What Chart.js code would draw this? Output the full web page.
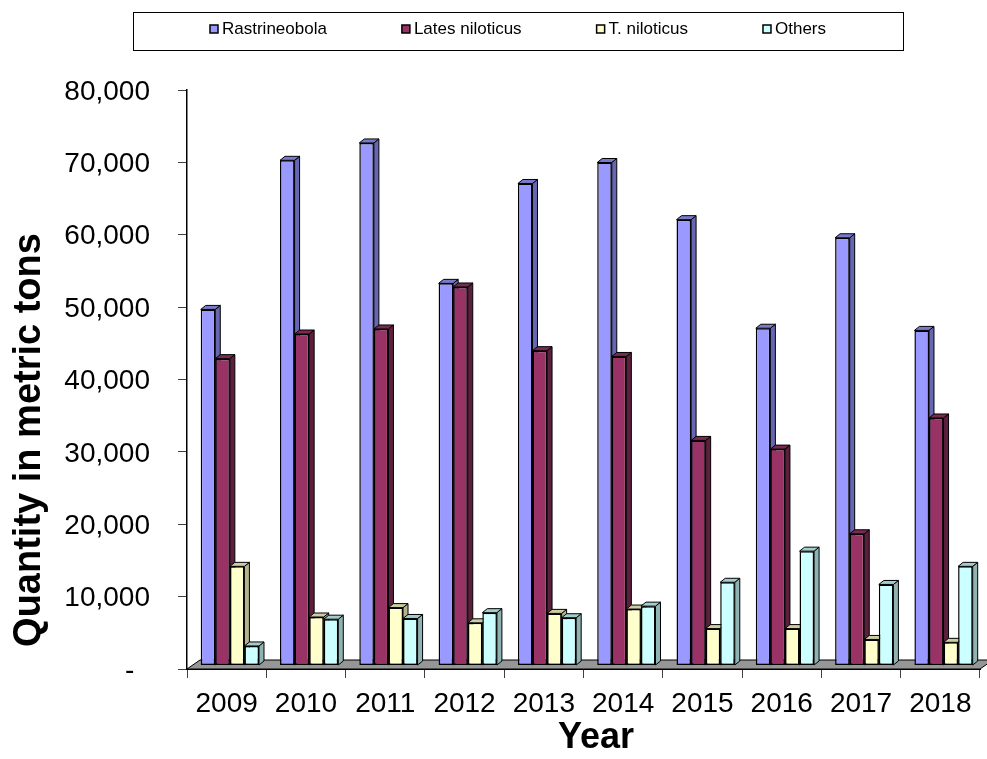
<!DOCTYPE html>
<html>
<head>
<meta charset="utf-8">
<title>Fish catch by species, 2009–2018</title>
<script src="https://cdn.jsdelivr.net/npm/chart.js@4.4.1/dist/chart.umd.min.js"></script>
<style>
  html, body { margin: 0; padding: 0; background: #ffffff; }
  #wrap { width: 987px; height: 759px; }
</style>
</head>
<body>
<div id="wrap"><canvas id="chart" width="987" height="759"></canvas></div>
<script>
// Annual landings (metric tons) per species group
const years = ['2009', '2010', '2011', '2012', '2013', '2014', '2015', '2016', '2017', '2018'];
const rastrineobola = [49200, 69800, 72200, 52800, 66600, 69500, 61600, 46600, 59100, 46300];
const latesNiloticus = [42400, 45800, 46500, 52300, 43500, 42700, 31100, 29900, 18200, 34200];
const tNiloticus = [13700, 6700, 8000, 5900, 7200, 7800, 5100, 5100, 3600, 3200];
const others = [2700, 6400, 6500, 7300, 6600, 8200, 11500, 15800, 11200, 13700];
const seriesNames = ['Rastrineobola', 'Lates niloticus', 'T. niloticus', 'Others'];
const yTicks = [0, 10000, 20000, 30000, 40000, 50000, 60000, 70000, 80000];

// Face colours for the pseudo-3D columns: front, right side, top
const frontColors = ['#9999FF', '#993366', '#FFFFCC', '#CCFFFF'];
const sideColors = ['#6666B3', '#5C1F3D', '#B3B38F', '#8FB3B3'];
const topColors = ['#7A7ACC', '#7A2952', '#CCCCA3', '#A3CCCC'];

const FONT = '"Liberation Sans", Arial, Helvetica, sans-serif';
const DEPTH = { dx: 5, dy: -4 };      // column depth
const SHIFT = { x: 3.2, y: -3.5 };    // columns sit mid-way into the floor
const FLOOR = { dx: 13, dy: -9 };     // floor depth

const seriesValues = [rastrineobola, latesNiloticus, tNiloticus, others];

function poly(ctx, pts, fill) {
  ctx.beginPath();
  ctx.moveTo(pts[0][0], pts[0][1]);
  for (let i = 1; i < pts.length; i++) ctx.lineTo(pts[i][0], pts[i][1]);
  ctx.closePath();
  ctx.fillStyle = fill;
  ctx.fill();
  ctx.lineWidth = 1;
  ctx.strokeStyle = '#000';
  ctx.stroke();
}

// Draws floor, column sides/tops and fronts in left-to-right order
const columns3d = {
  id: 'columns3d',
  beforeDatasetsDraw(chart) {
    const ctx = chart.ctx;
    const area = chart.chartArea;
    const y0 = chart.scales.y.getPixelForValue(0);
    ctx.save();
    poly(ctx, [
      [area.left, y0], [area.right, y0],
      [area.right + FLOOR.dx, y0 + FLOOR.dy], [area.left + FLOOR.dx, y0 + FLOOR.dy]
    ], '#969696');
    ctx.restore();

    ctx.save();
    ctx.translate(SHIFT.x, SHIFT.y);
    chart.data.datasets.forEach((ds, i) => {
      const meta = chart.getDatasetMeta(i);
      meta.data.forEach(bar => {
        const l = bar.x - bar.width / 2;
        const r = bar.x + bar.width / 2;
        const top = bar.y;
        const base = bar.base;
        poly(ctx, [[r, top], [r + DEPTH.dx, top + DEPTH.dy], [r + DEPTH.dx, base + DEPTH.dy], [r, base]], sideColors[i]);
        poly(ctx, [[l, top], [l + DEPTH.dx, top + DEPTH.dy], [r + DEPTH.dx, top + DEPTH.dy], [r, top]], topColors[i]);
        bar.draw(ctx, area);
      });
    });
    ctx.restore();
    return false;
  }
};

// Boxed legend and axis titles
const decorations = {
  id: 'decorations',
  afterDraw(chart) {
    const ctx = chart.ctx;
    ctx.save();
    // legend frame
    ctx.lineWidth = 1;
    ctx.strokeStyle = '#000';
    ctx.strokeRect(133.5, 12.5, 770, 38);
    ctx.font = '17px ' + FONT;
    ctx.textBaseline = 'middle';
    ctx.textAlign = 'left';
    const box = 8, gapText = 4, gapItem = 75;
    const widths = seriesNames.map(n => box + gapText + ctx.measureText(n).width);
    const total = widths.reduce((a, b) => a + b, 0) + gapItem * (widths.length - 1);
    let x = 518 - total / 2;
    const cy = 29;
    seriesNames.forEach((n, i) => {
      ctx.fillStyle = frontColors[i];
      ctx.fillRect(x, cy - box / 2, box, box);
      ctx.lineWidth = 1.5;
      ctx.strokeStyle = '#000';
      ctx.strokeRect(x, cy - box / 2, box, box);
      ctx.fillStyle = '#000';
      ctx.fillText(n, x + box + gapText, cy + 0.5);
      x += widths[i] + gapItem;
    });

    // axis titles
    ctx.fillStyle = '#000';
    ctx.textAlign = 'center';
    ctx.textBaseline = 'middle';
    ctx.font = 'bold 36px ' + FONT;
    ctx.fillText('Year', 596, 738);
    ctx.translate(30, 440);
    ctx.rotate(-Math.PI / 2);
    ctx.font = 'bold 38px ' + FONT;
    ctx.fillText('Quantity in metric tons', 0, 0);
    ctx.restore();
  }
};

const datasets = seriesNames.map((name, i) => ({
  label: name,
  data: seriesValues[i],
  backgroundColor: frontColors[i],
  borderColor: '#000',
  borderWidth: 1.5,
  borderSkipped: false,
  categoryPercentage: 0.735,
  barPercentage: 1.0
}));

new Chart(document.getElementById('chart'), {
  type: 'bar',
  data: { labels: years, datasets },
  plugins: [columns3d, decorations],
  options: {
    responsive: false,
    animation: false,
    devicePixelRatio: 1,
    layout: { padding: { top: 90, right: 7, bottom: 0, left: 0 } },
    plugins: {
      legend: { display: false },
      title: { display: false },
      tooltip: { enabled: false }
    },
    scales: {
      x: {
        afterFit(scale) { scale.height = 90; },
        grid: { drawOnChartArea: false, drawTicks: true, tickLength: 9, color: '#404040', offset: true },
        border: { display: true, color: '#000', width: 1 },
        ticks: {
          color: '#000',
          font: { family: FONT, size: 28 },
          padding: 9,
          maxRotation: 0,
          autoSkip: false
        }
      },
      y: {
        min: 0,
        max: 80000,
        afterFit(scale) { scale.width = 187; },
        afterBuildTicks(scale) { scale.ticks = yTicks.map(v => ({ value: v })); },
        grid: { drawOnChartArea: false, drawTicks: true, tickLength: 9, color: '#404040' },
        border: { display: true, color: '#000', width: 1.5 },
        ticks: {
          color: '#000',
          font: { family: FONT, size: 28 },
          padding: 28,
          labelOffset: 2,
          callback: v => (v === 0 ? '-  ' : v.toLocaleString('en-US'))
        }
      }
    }
  }
});
</script>
</body>
</html>
